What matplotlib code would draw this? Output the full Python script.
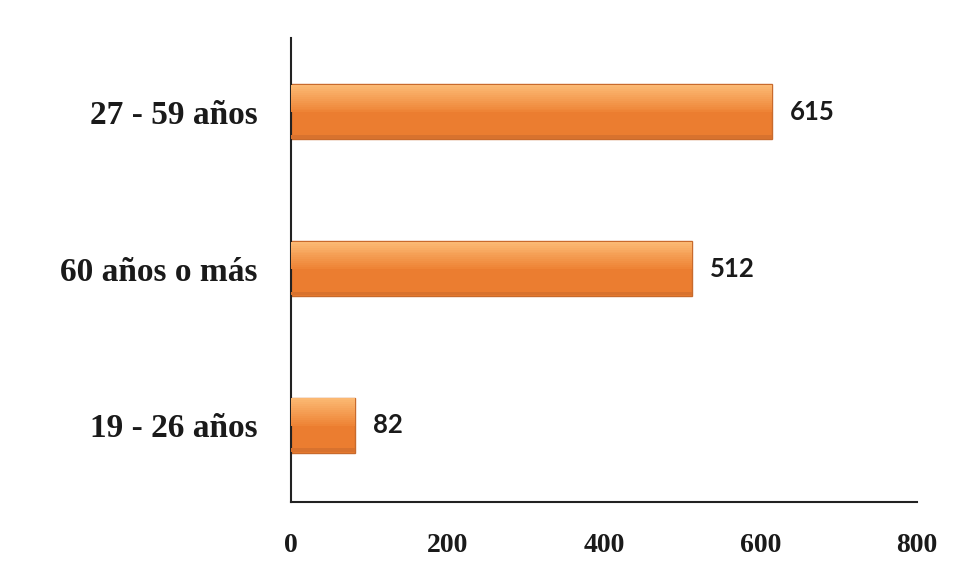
import matplotlib.pyplot as plt
import numpy as np

categories = ["19 - 26 años", "60 años o más", "27 - 59 años"]
values = [82, 512, 615]
xticks = [0, 200, 400, 600, 800]

fig = plt.figure(figsize=(9.75, 5.78), dpi=100)
ax = fig.add_axes([0.2985, 0.1315, 0.642, 0.8025])

h = 0.35
pos = np.arange(len(categories))

# base bar
ax.barh(pos, values, height=h, color="#EB7D30", edgecolor="#C86A2C", linewidth=1.0, zorder=2)

# soft bevel: light gradient in the upper part of each bar
n = 14
top_c = np.array([0xFB, 0xB8, 0x72]) / 255
mid_c = np.array([0xEE, 0x84, 0x36]) / 255
band = h * 0.5 / n
for i in range(n):
    t = i / (n - 1)
    col = top_c * (1 - t) + mid_c * t
    off = h / 2 - band * (i + 0.5) - 0.004
    ax.barh(pos + off, values, height=band, color=col, linewidth=0, zorder=3)
# darker rim at the bottom
ax.barh(pos - h * 0.455, values, height=h * 0.07, color="#D8722E", linewidth=0, zorder=3)

for p, v in zip(pos, values):
    ax.annotate(str(v), xy=(v, p), xytext=(13, 0), textcoords="offset points",
                va="center", ha="left", fontsize=18.5, fontweight="bold",
                family="Lato", color="#1a1a1a")

ax.set_xlim(0, 800)
ax.set_ylim(-0.49, 2.47)
ax.set_xticks(xticks)
ax.set_xticklabels([str(t) for t in xticks], family="Liberation Serif",
                   fontweight="bold", fontsize=20, color="#1a1a1a")
ax.set_yticks(pos)
ax.set_yticklabels(categories, family="Liberation Serif", fontweight="bold",
                   fontsize=24, color="#1a1a1a")
ax.tick_params(length=0, pad=24, axis="y")
ax.tick_params(length=0, pad=22, axis="x")

for s in ["top", "right"]:
    ax.spines[s].set_visible(False)
for s in ["left", "bottom"]:
    ax.spines[s].set_color("#222222")
    ax.spines[s].set_linewidth(1.5)

fig.savefig("out.png", dpi=100)
